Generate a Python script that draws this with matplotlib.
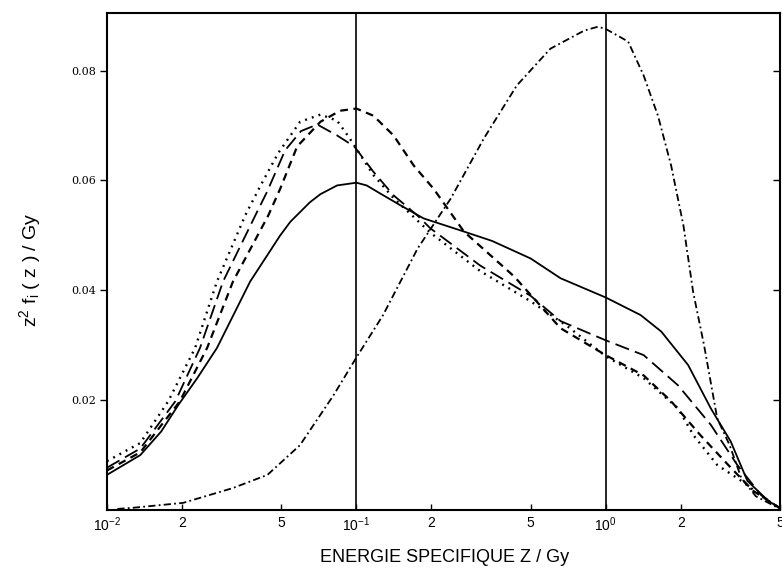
import matplotlib
matplotlib.use('Agg')
import matplotlib.pyplot as plt

# values (z in Gy, y = z^2 f_i(z) in Gy)
solid_x = [0.01, 0.0136, 0.0165, 0.0193, 0.023, 0.0276, 0.0375, 0.0495, 0.0544, 0.065, 0.0717, 0.0837, 0.1, 0.11,
           0.125, 0.15, 0.186, 0.262, 0.35, 0.5, 0.659, 1.0, 1.38, 1.67, 2.14, 2.64, 3.17, 3.7, 4.5, 5.0]
solid_y = [0.0064, 0.0100, 0.0143, 0.0191, 0.0240, 0.0295, 0.0416, 0.0500, 0.0525, 0.0560, 0.0575, 0.0591, 0.0596,
           0.0591, 0.0576, 0.0555, 0.0531, 0.0509, 0.0490, 0.0458, 0.0422, 0.0387, 0.0355, 0.0325, 0.0264, 0.0185,
           0.0125, 0.0053, 0.0016, 0.0004]

longdash_x = [0.01, 0.0136, 0.0188, 0.0236, 0.0292, 0.0393, 0.0439, 0.0518, 0.06, 0.0697, 0.0837, 0.0981, 0.117,
              0.141, 0.176, 0.198, 0.314, 0.5, 0.659, 1.0, 1.42, 1.95, 2.64, 3.37, 4.2, 5.0]
longdash_y = [0.0077, 0.0112, 0.0198, 0.0295, 0.0416, 0.0536, 0.0580, 0.0655, 0.0690, 0.0702, 0.0682, 0.0662, 0.0616,
              0.0573, 0.0536, 0.0513, 0.0445, 0.0390, 0.0344, 0.0309, 0.0282, 0.0227, 0.0155, 0.0082, 0.0027, 0.0003]

shortdash_x = [0.01, 0.0136, 0.0196, 0.0252, 0.032, 0.0443, 0.0495, 0.0579, 0.0718, 0.086, 0.1, 0.117, 0.141,
               0.17, 0.204, 0.27, 0.43, 0.659, 1.0, 1.42, 1.83, 2.4, 3.1, 3.9, 5.0]
shortdash_y = [0.0072, 0.0105, 0.0198, 0.0295, 0.0416, 0.0536, 0.0585, 0.0662, 0.0707, 0.0727, 0.0731, 0.0718,
               0.0682, 0.0627, 0.0585, 0.0507, 0.0425, 0.0331, 0.0282, 0.0245, 0.0198, 0.0136, 0.0082, 0.0035, 0.0003]

dotted_x = [0.01, 0.0136, 0.0176, 0.02256, 0.0276, 0.0358, 0.0412, 0.0486, 0.0595, 0.0718, 0.0837, 0.093, 0.117,
            0.141, 0.198, 0.314, 0.5, 0.7, 1.0, 1.42, 1.95, 2.25, 2.8, 3.5, 4.5, 5.0]
dotted_y = [0.0089, 0.0122, 0.0198, 0.0295, 0.0416, 0.0536, 0.0590, 0.0650, 0.0707, 0.0720, 0.0709, 0.0680, 0.0610,
            0.0568, 0.0505, 0.0435, 0.0380, 0.0335, 0.0280, 0.0240, 0.0185, 0.0136, 0.0082, 0.0053, 0.0016, 0.0003]

dashdot_x = [0.011, 0.0127, 0.0202, 0.032, 0.044, 0.0594, 0.081, 0.0995, 0.128, 0.176, 0.239, 0.324, 0.44, 0.6,
             0.82, 0.93, 1.0, 1.23, 1.42, 1.62, 1.83, 2.05, 2.24, 2.48, 2.8, 3.14, 3.5, 4.0, 5.0]
dashdot_y = [0.0002, 0.0004, 0.0013, 0.0040, 0.0064, 0.0118, 0.0209, 0.0276, 0.0355, 0.0476, 0.0567, 0.0676, 0.0773,
             0.0840, 0.0873, 0.0880, 0.0876, 0.0853, 0.0791, 0.0718, 0.0627, 0.0518, 0.0398, 0.0300, 0.0167, 0.0118,
             0.0058, 0.0025, 0.0002]

x_ticks = [0.01, 0.02, 0.05, 0.1, 0.2, 0.5, 1.0, 2.0, 5.0]
x_ticklabels = [r'$10^{-2}$', '2', '5', r'$10^{-1}$', '2', '5', r'$10^{0}$', '2', '5']
y_ticks = [0.02, 0.04, 0.06, 0.08]
y_ticklabels = ['0.02', '0.04', '0.06', '0.08']

plt.rcParams['font.family'] = ['Liberation Sans', 'DejaVu Sans']
plt.rcParams['mathtext.fontset'] = 'custom'
plt.rcParams['mathtext.rm'] = 'Liberation Sans'
plt.rcParams['mathtext.it'] = 'Liberation Sans'

fig = plt.figure(figsize=(7.82, 5.74), dpi=100)
ax = fig.add_axes([107 / 782, 1 - 510 / 574, (780 - 107) / 782, (510 - 13) / 574])

lw = 1.3
ax.plot(solid_x, solid_y, color='black', lw=lw, ls='-')
ax.plot(longdash_x, longdash_y, color='black', lw=lw, ls=(0, (8, 3.5)))
ax.plot(shortdash_x, shortdash_y, color='black', lw=lw + 0.3, ls=(0, (3.5, 2.5)))
ax.plot(dotted_x, dotted_y, color='black', lw=lw + 0.4, ls=(0, (0.8, 2.2)))
ax.plot(dashdot_x, dashdot_y, color='black', lw=lw, ls=(0, (4, 1.8, 1, 1.8)))

ax.axvline(0.1, color='black', lw=1.2)
ax.axvline(1.0, color='black', lw=1.2)

ax.set_xscale('log')
ax.set_xlim(0.01, 5.0)
ax.set_ylim(0, 0.0905)

ax.set_xticks(x_ticks)
ax.set_xticklabels(x_ticklabels, fontsize=10)
ax.xaxis.set_minor_locator(matplotlib.ticker.NullLocator())
ax.tick_params(axis='x', direction='in', length=4, width=1.0, pad=4, top=False)

ax.set_yticks(y_ticks)
ax.set_yticklabels(y_ticklabels, fontsize=8, family='DejaVu Serif')
ax.tick_params(axis='y', direction='out', length=5, width=1.0, pad=3)

sec = ax.secondary_yaxis('right')
sec.set_yticks(y_ticks)
sec.tick_params(axis='y', direction='in', length=5, width=1.0, labelright=False)
sec.spines['right'].set_visible(False)

for s in ax.spines.values():
    s.set_linewidth(1.5)

fig.text(445 / 782, 1 - 557 / 574, 'ENERGIE SPECIFIQUE Z / Gy', ha='center', va='center', fontsize=13)
fig.text(30 / 782, 1 - 270 / 574, r'z$^{2}$ f$_{\mathregular{i}}$ ( z ) / Gy', ha='center', va='center',
         rotation=90, fontsize=14)

fig.savefig('out.png', dpi=100)
